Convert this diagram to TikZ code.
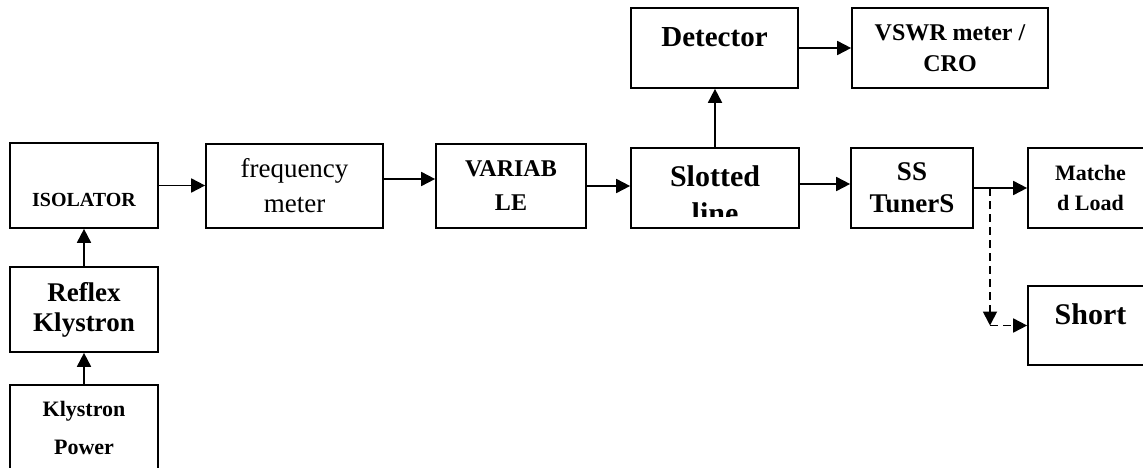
\documentclass[tikz,border=0pt]{standalone}
\usepackage{fontspec}
\setmainfont{Liberation Serif}
\usetikzlibrary{positioning,arrows.meta,calc}
\newcommand\bsz[2]{\fontsize{#1}{#2}\selectfont}

\begin{document}
\begin{tikzpicture}[x=1pt, y=-1pt, >={Triangle[length=14pt,width=14pt]}]
\tikzset{blk/.style={draw, line width=1.7pt, inner sep=0pt, align=center},arr/.style={->, line width=1.8pt},dsh/.style={->, line width=1.8pt, dash pattern=on 8pt off 5pt}}
\useasboundingbox (0,0) rectangle (1143,468);
% source side
\node[blk, minimum width=148pt, minimum height=85pt, font=\bfseries\bsz{20}{24}, text height=42pt, text depth=0pt] (iso) at (84,185.5) {ISOLATOR};
\node[blk, minimum width=148pt, minimum height=85pt, font=\bfseries\bsz{27}{30}] (reflex) at (84,309.5) {Reflex\\Klystron};
\node[blk, minimum width=148pt, minimum height=85pt, font=\bfseries\bsz{22}{38}] (power) at (84,427.5) {Klystron\\Power};
% main line
\node[blk, minimum width=177pt, minimum height=84pt, font=\bsz{27}{35}] (freq) at (294.5,186) {frequency\\meter};
\node[blk, minimum width=150pt, minimum height=84pt, font=\bfseries\bsz{24}{34}] (var) at (511,186) {VARIAB\\LE};
\node[blk, minimum width=168pt, minimum height=80pt] (slot) at (715,188) {};
\begin{scope}
\clip (slot.north west) rectangle ([yshift=12pt]slot.south east);
\node[align=center, font=\bfseries\bsz{30}{37}] (slottext) at ([yshift=-7pt]slot.center) {Slotted\\line};
\end{scope}
\node[blk, minimum width=167pt, minimum height=80pt, font=\bfseries\bsz{29}{34}, text height=20pt, text depth=22pt] (det) at (714.5,48) {Detector};
\node[blk, minimum width=196pt, minimum height=80pt, font=\bfseries\bsz{24}{31}] (vswr) at (950,48) {VSWR meter /\\CRO};
\node[blk, minimum width=122pt, minimum height=80pt, font=\bfseries\bsz{27}{32}] (ss) at (912,188) {SS\\TunerS};
\node[blk, minimum width=125pt, minimum height=80pt, font=\bfseries\bsz{22}{30}] (match) at (1090.5,188) {Matche\\d Load};
\node[blk, minimum width=125pt, minimum height=79pt, font=\bfseries\bsz{30}{34}, text height=20pt, text depth=22pt] (short) at (1090.5,325.5) {Short};
% connections
\draw[arr] (power) -- (reflex);
\draw[arr] (reflex) -- (iso);
\draw[arr] (iso.east) -- (iso.east -| freq.west);
\draw[arr] ([yshift=7pt]freq.east) -- ([yshift=7pt]var.west);
\draw[arr] (var.east) -- (var.east -| slot.west);
\draw[arr] (slot.north) -- (slot.north |- det.south);
\draw[arr] (det) -- (vswr);
\draw[arr] ([yshift=4pt]slot.east) -- ([yshift=4pt]ss.west);
\draw[arr] (ss) -- (match);
\coordinate (tap) at (990,188);
\coordinate (bend) at (990,325.5);
\draw[dsh] (tap) -- (bend);
\draw[dsh] (bend) -- (short);
\end{tikzpicture}
\end{document}
